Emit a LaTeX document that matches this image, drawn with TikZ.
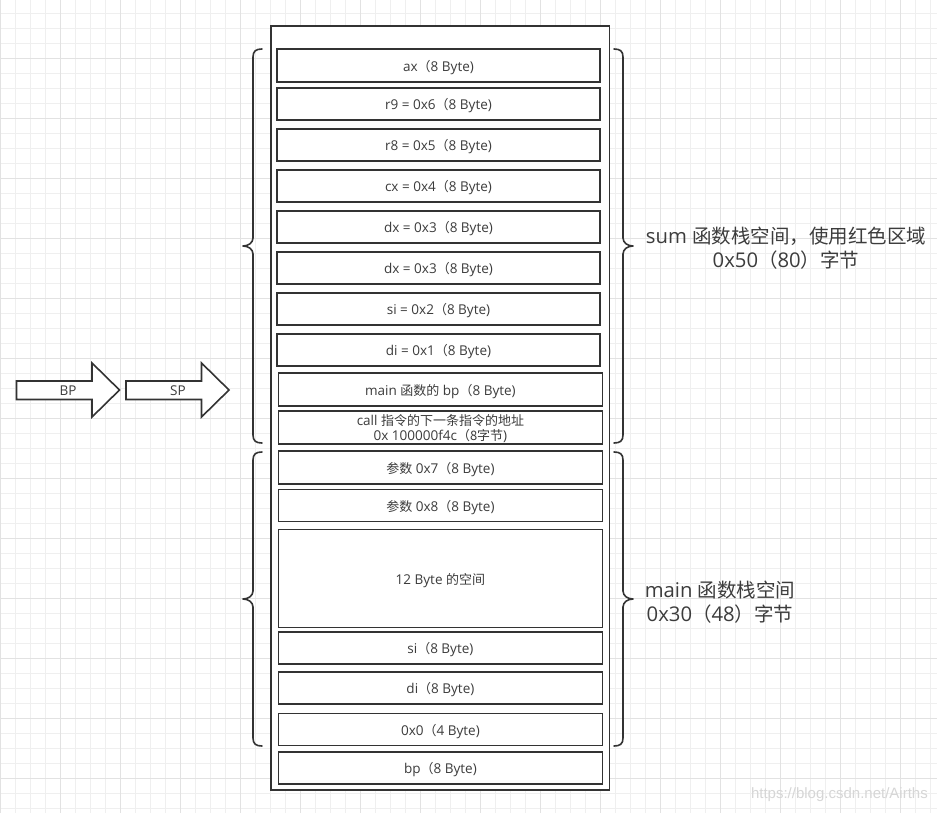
\documentclass[tikz,border=0pt]{standalone}
\usepackage{fontspec}
\setmainfont{Open Sans}[Scale=1.04]
\newfontfamily\cjk{Noto Sans CJK SC}
\newfontfamily\wmfont{Liberation Sans}
\newcommand{\zh}[1]{{\cjk #1}}
\definecolor{ink}{HTML}{333333}
\definecolor{txt}{HTML}{3C3C3C}
\definecolor{gridminor}{HTML}{EFEFEF}
\definecolor{gridmajor}{HTML}{E2E2E2}
\begin{document}
\begin{tikzpicture}[x=1pt,y=-1pt,
  cell/.style={draw=ink, line width=1.6pt, fill=white, inner sep=0pt, outer sep=0pt,
    text=txt, font=\fontsize{13}{15.5}\selectfont, align=center,
    text height=11.6pt, text depth=0pt},
  topcell/.style={cell, minimum width=323pt, minimum height=32pt},
  lowcell/.style={cell, minimum width=324pt, minimum height=32pt},
  brace/.style={draw=ink, line width=1.6pt, line cap=round, line join=round},
  bigarrow/.style={draw=ink, line width=1.6pt, fill=white, line join=miter},
  bigtext/.style={text=txt, font=\fontsize{19.5}{24}\selectfont, align=center, inner sep=0pt}
]
\useasboundingbox (0,0) rectangle (937,813);
\fill[white] (0,0) rectangle (937,813);

% background grid
\foreach \gx in {0,15,...,930} {\draw[gridminor, line width=0.9pt] (\gx,0) -- (\gx,813);}
\foreach \gy in {13.3,28.3,...,813} {\draw[gridminor, line width=0.9pt] (0,\gy) -- (937,\gy);}
\foreach \gx in {0,60,...,930} {\draw[gridmajor, line width=0.9pt] (\gx,0) -- (\gx,813);}
\foreach \gy in {58.3,118.3,...,813} {\draw[gridmajor, line width=0.9pt] (0,\gy) -- (937,\gy);}

% stack frame container
\node[draw=ink, line width=1.6pt, fill=white, minimum width=338.5pt, minimum height=764pt,
  inner sep=0pt, outer sep=0pt] (stack) at (440.25,408) {};

% sum frame
\node[topcell, minimum height=33pt] (ax) at (438.5,65.5) {ax\zh{（}8 Byte)};
\node[topcell] (r9) at (438.5,104) {r9 = 0x6\zh{（}8 Byte)};
\node[topcell] (r8) at (438.5,145) {r8 = 0x5\zh{（}8 Byte)};
\node[topcell] (cx) at (438.5,186) {cx = 0x4\zh{（}8 Byte)};
\node[topcell] (dxa) at (438.5,227) {dx = 0x3\zh{（}8 Byte)};
\node[topcell] (dxb) at (438.5,268) {dx = 0x3\zh{（}8 Byte)};
\node[topcell] (si1) at (438.5,309) {si = 0x2\zh{（}8 Byte)};
\node[topcell] (di1) at (438.5,350) {di = 0x1\zh{（}8 Byte)};
\node[lowcell, minimum height=33pt] (mbp) at (440.4,389.5) {main \zh{函数的} bp\zh{（}8 Byte)};
\node[lowcell, minimum height=33pt, text height=26.7pt, text depth=0pt] (ret) at (440.4,427.5)
  {call \zh{指令的下一条指令的地址}\\[-0.2pt]0x 100000f4c\zh{（8字节})};

% main frame
\node[lowcell, minimum height=33pt] (arg7) at (440.4,467.5) {\zh{参数} 0x7\zh{（}8 Byte)};
\node[lowcell] (arg8) at (440.4,505.6) {\zh{参数} 0x8\zh{（}8 Byte)};
\node[lowcell, minimum height=98pt] (pad) at (440.4,578.3) {12 Byte \zh{的空间}};
\node[lowcell] (si2) at (440.4,648) {si\zh{（}8 Byte)};
\node[lowcell] (di2) at (440.4,688) {di\zh{（}8 Byte)};
\node[lowcell] (zero) at (440.4,729.5) {0x0\zh{（}4 Byte)};
\node[lowcell] (bp) at (440.4,768) {bp\zh{（}8 Byte)};

% left braces
\draw[brace] (262,49) .. controls (256,49) and (253,51) .. (253,57) -- (253,238)
  .. controls (253,243) and (248,246) .. (243,246)
  .. controls (248,246) and (253,249) .. (253,254) -- (253,435)
  .. controls (253,441) and (256,443) .. (262,443);
\draw[brace] (262,452) .. controls (256,452) and (253,454) .. (253,460) -- (253,591)
  .. controls (253,596) and (248,599) .. (243,599)
  .. controls (248,599) and (253,602) .. (253,607) -- (253,738)
  .. controls (253,744) and (256,746) .. (262,746);

% right braces
\draw[brace] (614,49) .. controls (620,49) and (623,51) .. (623,57) -- (623,238)
  .. controls (623,243) and (628,246) .. (633,246)
  .. controls (628,246) and (623,249) .. (623,254) -- (623,435)
  .. controls (623,441) and (620,443) .. (614,443);
\draw[brace] (614,452) .. controls (620,452) and (623,454) .. (623,460) -- (623,591)
  .. controls (623,596) and (628,599) .. (633,599)
  .. controls (628,599) and (623,602) .. (623,607) -- (623,738)
  .. controls (623,744) and (620,746) .. (614,746);

% frame captions
\node[bigtext] (sumcap) at (786,248) {sum \zh{函数栈空间，使用红色区域}\\0x50\zh{（}80\zh{）字节}};
\node[bigtext] (maincap) at (720,602) {main \zh{函数栈空间}\\0x30\zh{（}48\zh{）字节}};

% register pointers
\draw[bigarrow] (16.5,381) -- (92,381) -- (92,363) -- (119.5,390) -- (92,417) -- (92,399.5)
  -- (16.5,399.5) -- cycle;
\node[text=txt, font=\fontsize{13}{15}\selectfont, inner sep=0pt] (bplabel) at (68,390.5) {BP};
\draw[bigarrow] (126,381) -- (201.5,381) -- (201.5,363) -- (229,390) -- (201.5,417) -- (201.5,399.5)
  -- (126,399.5) -- cycle;
\node[text=txt, font=\fontsize{13}{15}\selectfont, inner sep=0pt] (splabel) at (178,390.5) {SP};

% watermark
\node[text=black!16, font=\wmfont\fontsize{15}{17}\selectfont, inner sep=0pt, anchor=east]
  (mark) at (928,795) {https://blog.csdn.net/Airths};
\end{tikzpicture}
\end{document}
